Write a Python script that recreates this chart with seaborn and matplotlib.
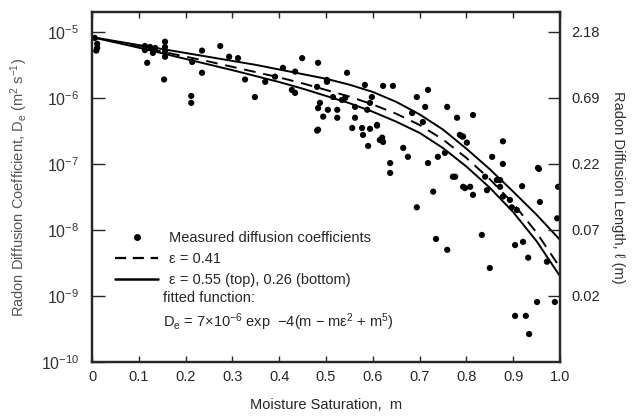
import numpy as np
import pandas as pd
import matplotlib
matplotlib.use("Agg")
import matplotlib.pyplot as plt
from matplotlib.lines import Line2D
import seaborn as sns

# measured diffusion coefficients
m_meas = [0.006, 0.011, 0.011, 0.009, 0.113, 0.113, 0.124, 0.118, 0.135, 0.130,
          0.156, 0.156, 0.156, 0.156, 0.154, 0.214, 0.235, 0.235, 0.212, 0.212,
          0.274, 0.293, 0.312, 0.327, 0.348, 0.408, 0.434, 0.449, 0.483, 0.483,
          0.483, 0.545, 0.583, 0.622, 0.643, 0.502, 0.487, 0.504, 0.524, 0.524,
          0.494, 0.562, 0.588, 0.594, 0.609, 0.541, 0.694, 0.718, 0.712, 0.759,
          0.780, 0.814, 0.791, 0.855, 0.878, 0.878, 0.955, 0.996, 0.919, 0.556,
          0.577, 0.579, 0.594, 0.590, 0.615, 0.622, 0.620, 0.665, 0.675, 0.637,
          0.637, 0.718, 0.729, 0.776, 0.793, 0.808, 0.814, 0.844, 0.872, 0.878,
          0.957, 0.694, 0.893, 0.840, 0.865, 0.502, 0.515, 0.534, 0.562, 0.598,
          0.684, 0.707, 0.793, 0.801, 0.872, 0.897, 0.739, 0.754, 0.786, 0.771,
          0.797, 0.994, 0.908, 0.953, 0.735, 0.759, 0.833, 0.850, 0.904, 0.921,
          0.932, 0.972, 0.951, 0.989, 0.904, 0.927, 0.934, 0.481, 0.609, 0.370,
          0.391, 0.427, 0.434, 0.481]
d_meas = [8.1e-6, 6.6e-6, 5.7e-6, 5.2e-6, 6.1e-6, 5.3e-6, 5.9e-6, 3.4e-6, 5.7e-6, 4.8e-6,
          7.1e-6, 5.9e-6, 5.0e-6, 4.2e-6, 1.9e-6, 3.5e-6, 5.2e-6, 2.4e-6, 1.07e-6, 8.4e-7,
          6.1e-6, 4.2e-6, 4.0e-6, 1.9e-6, 1.03e-6, 2.85e-6, 2.5e-6, 4.0e-6, 3.4e-6, 7.0e-7,
          3.3e-7, 2.4e-6, 1.57e-6, 1.52e-6, 1.52e-6, 1.87e-6, 8.4e-7, 6.6e-7, 6.6e-7, 5.0e-7,
          5.2e-7, 5.0e-7, 6.6e-7, 8.4e-7, 3.9e-7, 1.0e-6, 1.03e-6, 1.32e-6, 7.3e-7, 7.3e-7,
          5.0e-7, 5.5e-7, 2.6e-7, 1.28e-7, 2.2e-7, 1.0e-7, 8.4e-8, 4.5e-8, 4.6e-8, 3.5e-7,
          3.5e-7, 2.75e-7, 3.4e-7, 1.87e-7, 2.3e-7, 2.15e-7, 2.5e-7, 1.75e-7, 1.28e-7, 1.03e-7,
          7.3e-8, 1.03e-7, 3.8e-8, 6.4e-8, 4.5e-8, 4.5e-8, 3.4e-8, 4.0e-8, 4.5e-8, 3.2e-8,
          2.65e-8, 2.2e-8, 2.85e-8, 6.4e-8, 5.7e-8, 1.75e-6, 1.03e-6, 9.3e-7, 7.3e-7, 1.03e-6,
          5.9e-7, 4.3e-7, 2.6e-7, 2.1e-7, 5.7e-8, 2.2e-8, 1.28e-7, 1.47e-7, 2.75e-7, 6.4e-8,
          4.3e-8, 1.5e-8, 2.0e-8, 8.7e-8, 7.3e-9, 5.0e-9, 8.4e-9, 2.65e-9, 5.9e-9, 6.6e-9,
          3.8e-9, 3.3e-9, 8.1e-10, 8.1e-10, 5.0e-10, 5.0e-10, 2.65e-10, 3.2e-7, 3.8e-7, 1.75e-6,
          2.1e-6, 1.32e-6, 1.19e-6, 1.47e-6]

# fitted curves, log10(D)
m_fit = [0, 0.05, 0.1, 0.15, 0.2, 0.25, 0.3, 0.35, 0.4, 0.45, 0.5,
         0.55, 0.6, 0.65, 0.7, 0.75, 0.8, 0.85, 0.9, 0.95, 1.0]
logd_eps055 = [-5.08, -5.14, -5.20, -5.26, -5.32, -5.38, -5.44, -5.50, -5.57, -5.64, -5.71,
               -5.80, -5.91, -6.06, -6.25, -6.48, -6.77, -7.08, -7.42, -7.77, -8.15]
logd_eps041 = [-5.08, -5.15, -5.225, -5.30, -5.375, -5.45, -5.53, -5.61, -5.69, -5.78, -5.88,
               -5.98, -6.10, -6.24, -6.41, -6.63, -6.91, -7.23, -7.60, -8.04, -8.57]
logd_eps026 = [-5.08, -5.16, -5.24, -5.325, -5.41, -5.495, -5.58, -5.67, -5.76, -5.86, -5.97,
               -6.08, -6.21, -6.36, -6.53, -6.76, -7.04, -7.36, -7.73, -8.17, -8.70]

x_ticks = [0, 0.1, 0.2, 0.3, 0.4, 0.5, 0.6, 0.7, 0.8, 0.9, 1.0]
x_labels = ["0", "0.1", "0.2", "0.3", "0.4", "0.5", "0.6", "0.7", "0.8", "0.9", "1.0"]
y_ticks = [1e-10, 1e-9, 1e-8, 1e-7, 1e-6, 1e-5]
y_labels = ["$10^{-10}$", "$10^{-9}$", "$10^{-8}$", "$10^{-7}$", "$10^{-6}$", "$10^{-5}$"]
len_ticks = [1e-9, 1e-8, 1e-7, 1e-6, 1e-5]
len_labels = ["0.02", "0.07", "0.22", "0.69", "2.18"]

sns.set_style("ticks")
plt.rcParams["font.family"] = ["Liberation Sans", "DejaVu Sans"]
plt.rcParams["mathtext.fontset"] = "custom"
plt.rcParams["mathtext.rm"] = "Liberation Sans"
plt.rcParams["mathtext.it"] = "Liberation Sans:italic"
plt.rcParams["mathtext.default"] = "regular"

meas = pd.DataFrame({"m": m_meas, "D": d_meas})
fits = pd.DataFrame({"m": m_fit,
                     "top": 10.0 ** np.array(logd_eps055),
                     "mid": 10.0 ** np.array(logd_eps041),
                     "bot": 10.0 ** np.array(logd_eps026)})

fig = plt.figure(figsize=(6.36, 4.16), dpi=100)
ax = fig.add_axes([0.1447, 0.1298, 0.7358, 0.8414])

sns.scatterplot(data=meas, x="m", y="D", ax=ax, color="black", s=20,
                edgecolor="none", legend=False)
sns.lineplot(data=fits, x="m", y="top", ax=ax, color="black", lw=1.4)
sns.lineplot(data=fits, x="m", y="mid", ax=ax, color="black", lw=1.4,
             linestyle=(0, (6, 4)))
sns.lineplot(data=fits, x="m", y="bot", ax=ax, color="black", lw=1.4)

ax.set_yscale("log")
ax.set_xlim(0, 1.0)
ax.set_ylim(1e-10, 2e-5)
ax.set_xticks(x_ticks)
ax.set_xticklabels(x_labels, fontsize=10.5)
ax.set_yticks(y_ticks)
ax.set_yticklabels(y_labels, fontsize=11.5, color="#333333")
ax.minorticks_off()
ax.tick_params(axis="x", direction="in", length=4, width=1, top=True, pad=6)
ax.tick_params(axis="y", direction="in", length=9, width=1, pad=9)
ax.set_xlabel("Moisture Saturation,  m", fontsize=10.5, labelpad=10)
ax.set_ylabel("Radon Diffusion Coefficient, D$_e$ (m$^2$ s$^{-1}$)", fontsize=10.5,
              color="#555555", labelpad=8)
for sp in ax.spines.values():
    sp.set_linewidth(1.6)

ax2 = ax.twinx()
ax2.set_yscale("log")
ax2.set_ylim(1e-10, 2e-5)
ax2.set_yticks(len_ticks)
ax2.set_yticklabels(len_labels, fontsize=10.5)
ax2.minorticks_off()
ax2.tick_params(axis="y", direction="in", length=9, width=1, pad=8)
ax2.set_ylabel("Radon Diffusion Length, \u2113 (m)", fontsize=10.5, rotation=-90,
               labelpad=18, color="#333333")
for sp in ax2.spines.values():
    sp.set_linewidth(1.6)

handles = [
    Line2D([], [], marker="o", color="black", ls="none", markersize=4),
    Line2D([], [], color="black", lw=1.6, linestyle=(0, (5, 3))),
    Line2D([], [], color="black", lw=1.8),
]
labels = ["Measured diffusion coefficients", "\u03b5 = 0.41",
          "\u03b5 = 0.55 (top), 0.26 (bottom)"]
ax.legend(handles, labels, loc="upper left", bbox_to_anchor=(0.05, 0.375),
          frameon=False, fontsize=10.5, handlelength=2.9, handletextpad=0.8,
          labelspacing=0.5, borderpad=0, borderaxespad=0)
ax.text(0.152, 0.183, "fitted function:", transform=ax.transAxes, fontsize=10.5,
        va="center")
ax.text(0.152, 0.113, "D$_e$ = 7$\\times$10$^{-6}$ exp  \u22124(m \u2212 m\u03b5$^2$ + m$^5$)",
        transform=ax.transAxes, fontsize=10.5, va="center")

plt.savefig("out.png", dpi=100)
